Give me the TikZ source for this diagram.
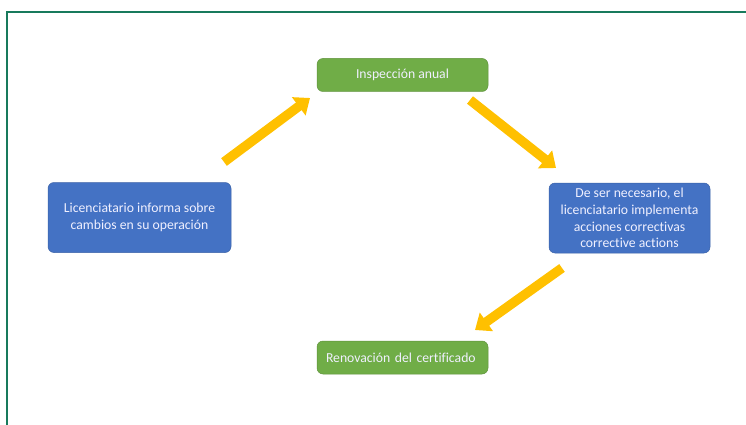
\documentclass[tikz,border=0pt]{standalone}
\usepackage{fontspec}
\setmainfont{Carlito}[Ligatures=NoCommon]
\usetikzlibrary{arrows.meta}
\definecolor{framegreen}{RGB}{24,122,92}
\definecolor{boxblue}{RGB}{68,114,196}
\definecolor{boxgreen}{RGB}{112,173,71}
\definecolor{arrowgold}{RGB}{255,192,0}
\tikzset{
	stagebox/.style={rounded corners=6pt, text=white!94!blue, font=\fontsize{13.7}{16.7}\selectfont, align=center, inner sep=0pt},
	bluebox/.style={stagebox, fill=boxblue, draw=boxblue!85!black, line width=0.5pt, minimum height=70pt},
	greenbox/.style={stagebox, fill=boxgreen, draw=boxgreen!85!black, line width=0.5pt, minimum width=171pt, minimum height=33pt},
	fatarrow/.style={draw=arrowgold, line width=9.5pt, -{Triangle[width=22pt,length=14pt]}}
}
\begin{document}
\begin{tikzpicture}[x=1pt,y=-1pt]
	\useasboundingbox (0,0) rectangle (746,425);
	\draw [framegreen, line width=2.4pt] (7,440) -- (7,12) -- (760,12);
	% the four stages
	\node [greenbox] (inspeccion) at (402.5,75) {Inspección anual};
	\node [bluebox, minimum width=183pt] (informa) at (139.5,217.5) {Licenciatario informa sobre\\cambios en su operación};
	\node [bluebox, minimum width=161pt] (acciones) at (629.5,218) {De ser necesario, el\\licenciatario implementa\\acciones correctivas\\corrective actions};
	\node [greenbox, text width=153pt, align=left, inner xsep=9pt] (renovacion) at (402.5,357.5) {Renovación del certificado};
	% arrow ends
	\coordinate (a1s) at (224,162);
	\coordinate (a1e) at (310,98);
	\coordinate (a2s) at (470,100);
	\coordinate (a2e) at (556,168);
	\coordinate (a3s) at (562,268);
	\coordinate (a3e) at (475,330);
	\foreach \s/\e in {a1s/a1e,a2s/a2e,a3s/a3e}
	\draw [fatarrow] (\s) -- (\e);
\end{tikzpicture}
\end{document}
